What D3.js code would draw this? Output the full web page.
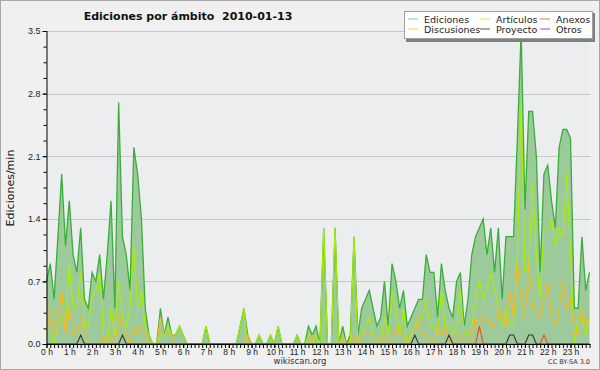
<!DOCTYPE html>
<html>
<head>
<meta charset="utf-8">
<script src="https://cdnjs.cloudflare.com/ajax/libs/d3/7.8.5/d3.min.js"></script>
<style>
  body { margin: 0; background: #fff; }
  svg { display: block; font-family: 'DejaVu Sans', sans-serif; }
</style>
</head>
<body>
<script>
// one value every 10 minutes, 0:00 -> 23:50 (edits per minute)
const ediciones = [
  0.7, 0.9, 0.5, 1.2, 1.9, 1.1, 1.6, 1.0, 0.8, 1.3, 0.5, 0.4, 0.8, 0.7, 1.0, 0.5, 1.0, 1.6, 0.4, 2.7, 1.2, 1.0, 0.6, 2.2,
  1.9, 1.4, 0.4, 0.1, 0.0, 0.0, 0.4, 0.1, 0.3, 0.1, 0.1, 0.2, 0.1, 0.0, 0.0, 0.0, 0.0, 0.0, 0.2, 0.0, 0.0, 0.0, 0.0, 0.0,
  0.0, 0.0, 0.0, 0.2, 0.4, 0.1, 0.0, 0.0, 0.1, 0.0, 0.0, 0.1, 0.0, 0.2, 0.0, 0.0, 0.0, 0.0, 0.1, 0.0, 0.0, 0.2, 0.1, 0.2,
  0.0, 1.3, 0.0, 0.0, 1.3, 0.0, 0.2, 0.0, 0.1, 1.2, 0.1, 0.4, 0.5, 0.6, 0.4, 0.2, 0.3, 0.7, 0.2, 0.9, 0.7, 0.4, 0.6, 0.2,
  0.3, 0.4, 0.5, 0.5, 1.0, 0.8, 0.8, 0.3, 0.9, 0.6, 0.4, 0.3, 0.7, 0.8, 0.2, 0.5, 1.0, 1.2, 1.3, 1.4, 1.0, 1.3, 0.8, 1.3,
  0.5, 1.2, 1.2, 1.2, 2.3, 3.5, 1.5, 2.6, 2.6, 2.1, 0.8, 1.9, 2.0, 1.6, 1.3, 2.2, 2.4, 2.4, 2.3, 0.4, 0.4, 1.2, 0.6, 0.8
]
const articulos = [
  0.1, 0.1, 0.0, 0.2, 0.3, 0.2, 0.9, 0.4, 0.4, 0.8, 0.2, 0.2, 0.5, 0.6, 0.8, 0.1, 0.0, 0.4, 0.1, 0.7, 0.3, 0.2, 0.4, 1.1,
  0.4, 0.6, 0.2, 0.1, 0.0, 0.0, 0.1, 0.1, 0.2, 0.1, 0.1, 0.2, 0.1, 0.0, 0.0, 0.0, 0.0, 0.0, 0.2, 0.0, 0.0, 0.0, 0.0, 0.0,
  0.0, 0.0, 0.0, 0.2, 0.4, 0.0, 0.0, 0.0, 0.1, 0.0, 0.0, 0.1, 0.0, 0.2, 0.0, 0.0, 0.0, 0.0, 0.1, 0.0, 0.0, 0.1, 0.0, 0.1,
  0.0, 1.3, 0.0, 0.0, 1.3, 0.0, 0.1, 0.0, 0.0, 1.2, 0.0, 0.1, 0.2, 0.3, 0.1, 0.0, 0.0, 0.3, 0.1, 0.6, 0.4, 0.1, 0.4, 0.0,
  0.1, 0.2, 0.3, 0.3, 0.5, 0.2, 0.2, 0.1, 0.6, 0.2, 0.2, 0.1, 0.2, 0.6, 0.1, 0.1, 0.2, 0.5, 0.7, 0.5, 0.6, 0.8, 0.6, 0.4,
  0.2, 0.4, 0.2, 0.2, 1.0, 2.7, 0.8, 0.9, 1.8, 1.0, 0.5, 1.3, 1.3, 1.4, 1.1, 1.3, 1.2, 1.9, 1.0, 0.0, 0.3, 0.3, 0.1, 0.3
]
const discusiones = [
  0.1, 0.4, 0.1, 0.3, 0.6, 0.1, 0.4, 0.1, 0.1, 0.3, 0.1, 0.0, 0.0, 0.0, 0.0, 0.1, 0.0, 0.1, 0.0, 0.3, 0.2, 0.1, 0.0, 0.2,
  0.1, 0.2, 0.1, 0.0, 0.0, 0.0, 0.3, 0.1, 0.1, 0.1, 0.0, 0.0, 0.0, 0.0, 0.0, 0.0, 0.0, 0.0, 0.0, 0.0, 0.0, 0.0, 0.0, 0.0,
  0.0, 0.0, 0.0, 0.0, 0.0, 0.1, 0.0, 0.0, 0.0, 0.0, 0.0, 0.0, 0.0, 0.0, 0.0, 0.0, 0.0, 0.0, 0.0, 0.0, 0.0, 0.0, 0.1, 0.0,
  0.0, 0.0, 0.0, 0.0, 0.0, 0.0, 0.1, 0.0, 0.0, 0.1, 0.0, 0.1, 0.1, 0.1, 0.1, 0.0, 0.0, 0.1, 0.0, 0.0, 0.2, 0.1, 0.1, 0.0,
  0.0, 0.1, 0.3, 0.1, 0.1, 0.0, 0.0, 0.2, 0.1, 0.2, 0.0, 0.0, 0.1, 0.1, 0.0, 0.0, 0.1, 0.3, 0.1, 0.3, 0.3, 0.2, 0.2, 0.4,
  0.3, 0.2, 0.6, 0.3, 0.9, 0.5, 0.3, 0.9, 0.4, 0.4, 0.3, 0.5, 0.7, 0.3, 0.2, 0.4, 0.7, 0.4, 0.5, 0.1, 0.1, 0.4, 0.2, 0.3
]
const anexos = [
  0, 0, 0, 0, 0, 0, 0, 0, 0, 0, 0, 0, 0, 0, 0, 0, 0, 0, 0, 0, 0, 0, 0, 0,
  0, 0, 0, 0, 0, 0, 0, 0, 0, 0, 0, 0, 0, 0, 0, 0, 0, 0, 0, 0, 0, 0, 0, 0,
  0, 0, 0, 0, 0, 0, 0, 0, 0, 0, 0, 0, 0, 0, 0, 0, 0, 0, 0, 0, 0, 0, 0, 0,
  0, 0, 0, 0, 0, 0, 0, 0, 0, 0, 0, 0, 0, 0, 0, 0, 0, 0, 0, 0, 0, 0, 0, 0,
  0, 0, 0, 0, 0, 0, 0, 0, 0, 0, 0, 0, 0, 0, 0, 0, 0, 0, 0.2, 0, 0, 0, 0, 0,
  0, 0, 0, 0, 0, 0, 0, 0, 0, 0, 0, 0.1, 0, 0, 0, 0, 0, 0, 0, 0, 0, 0, 0, 0
]
const proyecto = [
  0, 0, 0, 0, 0, 0, 0, 0, 0, 0.1, 0, 0, 0, 0, 0, 0, 0, 0, 0, 0, 0.1, 0, 0, 0,
  0, 0, 0, 0, 0, 0, 0, 0, 0, 0, 0, 0, 0, 0, 0, 0, 0, 0, 0, 0, 0, 0, 0, 0,
  0, 0, 0, 0, 0, 0, 0, 0, 0, 0, 0, 0, 0, 0, 0, 0, 0, 0, 0, 0, 0, 0, 0, 0,
  0, 0, 0, 0, 0, 0, 0, 0, 0, 0, 0, 0, 0, 0, 0, 0, 0, 0, 0, 0, 0, 0, 0, 0,
  0, 0.1, 0, 0, 0, 0, 0, 0, 0, 0, 0.1, 0, 0, 0, 0, 0, 0, 0, 0, 0, 0, 0, 0, 0,
  0, 0, 0.1, 0.1, 0, 0, 0, 0.1, 0.1, 0, 0, 0, 0, 0, 0, 0, 0, 0, 0, 0, 0, 0, 0, 0
]

const hourLabels = ['0 h', '1 h', '2 h', '3 h', '4 h', '5 h', '6 h', '7 h', '8 h', '9 h', '10 h', '11 h',
  '12 h', '13 h', '14 h', '15 h', '16 h', '17 h', '18 h', '19 h', '20 h', '21 h', '22 h', '23 h']
const yTicks = [0, 0.7, 1.4, 2.1, 2.8, 3.5]
const legendNames = ['Ediciones', 'Artículos', 'Anexos', 'Discusiones', 'Proyecto', 'Otros']
const legendColors = ['#88cc88', '#ccee55', '#ee7744', '#ffcc44', '#555555', '#9944ee']

const w = 600
const h = 370
const plotLeft = 46.5
const plotRight = 589.5
const plotTop = 31
const plotBottom = 344

const svg = d3.select('body').append('svg')
  .attr('width', w)
  .attr('height', h)

// background + frame
svg.append('rect').attr('width', w).attr('height', h).attr('fill', '#f0f0f0')
svg.append('rect').attr('x', 0.5).attr('y', 0.5).attr('width', w - 1).attr('height', h - 1)
  .attr('fill', 'none').attr('stroke', '#a8a8a8')
svg.append('rect').attr('x', plotLeft).attr('y', plotTop).attr('width', plotRight - plotLeft).attr('height', plotBottom - plotTop)
  .attr('fill', '#ecedef')

const xScale = d3.scaleLinear().domain([0, ediciones.length - 1]).range([plotLeft, plotRight])
const yScale = d3.scaleLinear().domain([0, 3.5]).range([plotBottom, plotTop])

// grid
svg.append('g').selectAll('line')
  .data(yTicks.slice(1))
  .join('line')
  .attr('x1', plotLeft).attr('x2', plotRight + 1)
  .attr('y1', d => Math.round(yScale(d)) + 0.5).attr('y2', d => Math.round(yScale(d)) + 0.5)
  .attr('stroke', '#c8c8c8')

// series
const area = d3.area()
  .x((d, i) => xScale(i))
  .y0(yScale(0))
  .y1(d => yScale(d))

const lineFn = d3.line()
  .x((d, i) => xScale(i))
  .y(d => yScale(d))

svg.append('path')
  .attr('d', area(ediciones))
  .attr('fill', '#9dca9b')

svg.append('path')
  .attr('d', lineFn(ediciones))
  .attr('fill', 'none')
  .attr('stroke', '#3aae3a')
  .attr('stroke-width', 1.3)

const others = [
  [articulos, '#aaee00'],
  [discusiones, '#f8b820'],
  [anexos, '#ee4a18'],
  [proyecto, '#333333']
]
others.forEach(([vals, col]) => {
  svg.append('path')
    .attr('d', lineFn(vals))
    .attr('fill', 'none')
    .attr('stroke', col)
    .attr('stroke-width', 1.1)
})

// y axis
const yAxis = d3.axisLeft(yScale)
  .tickValues(yTicks)
  .tickFormat(d3.format('.1f'))
  .tickSize(4)
  .tickPadding(2)
const yMinor = d3.axisLeft(yScale)
  .tickValues(d3.range(0, 21).map(k => k * 0.175))
  .tickFormat('')
  .tickSize(3)

svg.append('g')
  .attr('transform', 'translate(' + plotLeft + ',0)')
  .call(yMinor)
  .call(g => g.select('.domain').remove())
svg.append('g')
  .attr('class', 'y-axis')
  .attr('transform', 'translate(' + plotLeft + ',0)')
  .call(yAxis)
  .call(g => g.select('.domain').attr('d', 'M0.5,' + plotTop + 'V' + plotBottom))
  .call(g => g.selectAll('text').attr('font-size', 9).attr('fill', '#222'))

// x axis
const xMinor = d3.axisBottom(xScale)
  .tickValues(d3.range(0, ediciones.length))
  .tickFormat('')
  .tickSize(4)
const xAxis = d3.axisBottom(xScale)
  .tickValues(d3.range(0, 24).map(k => k * 6))
  .tickFormat((d, i) => hourLabels[i])
  .tickSize(4)
  .tickPadding(1)

svg.append('g')
  .attr('transform', 'translate(0,' + plotBottom + ')')
  .call(xMinor)
  .call(g => g.select('.domain').attr('d', 'M' + plotLeft + ',0.5H' + (plotRight + 1)))
svg.append('g')
  .attr('class', 'x-axis')
  .attr('transform', 'translate(0,' + plotBottom + ')')
  .call(xAxis)
  .call(g => g.select('.domain').remove())
  .call(g => g.selectAll('text').attr('font-size', 8.5).attr('fill', '#222'))

// titles
svg.append('text')
  .attr('x', 188).attr('y', 20)
  .attr('text-anchor', 'middle')
  .attr('font-size', 11)
  .attr('font-weight', 'bold')
  .attr('fill', '#111')
  .attr('xml:space', 'preserve')
  .text('Ediciones por ámbito  2010-01-13')

svg.append('text')
  .attr('transform', 'translate(14,188) rotate(-90)')
  .attr('text-anchor', 'middle')
  .attr('font-size', 11)
  .attr('fill', '#111')
  .text('Ediciones/min')

svg.append('text')
  .attr('x', 300).attr('y', 364)
  .attr('text-anchor', 'middle')
  .attr('font-size', 8.5)
  .attr('fill', '#333')
  .text('wikiscan.org')

svg.append('text')
  .attr('x', 590).attr('y', 364)
  .attr('text-anchor', 'end')
  .attr('font-size', 6.5)
  .attr('fill', '#333')
  .text('CC BY-SA  3.0')

// legend
const lg = svg.append('g')
lg.append('rect').attr('x', 406).attr('y', 13).attr('width', 189).attr('height', 29).attr('fill', '#808080')
lg.append('rect').attr('x', 404.5).attr('y', 11.5).attr('width', 188).attr('height', 27)
  .attr('fill', '#ffffff').attr('stroke', '#a0a0a0')
const colX = [408, 480, 540]
const items = lg.selectAll('g.item')
  .data(legendNames)
  .join('g')
  .attr('transform', (d, i) => 'translate(' + colX[i % 3] + ',' + (19 + Math.floor(i / 3) * 10) + ')')
items.append('line')
  .attr('x1', 0).attr('x2', 10)
  .attr('stroke', (d, i) => legendColors[i])
items.append('text')
  .attr('x', 16).attr('y', 3.5)
  .attr('font-size', 9.5)
  .attr('fill', '#222')
  .text(d => d)
</script>
</body>
</html>
